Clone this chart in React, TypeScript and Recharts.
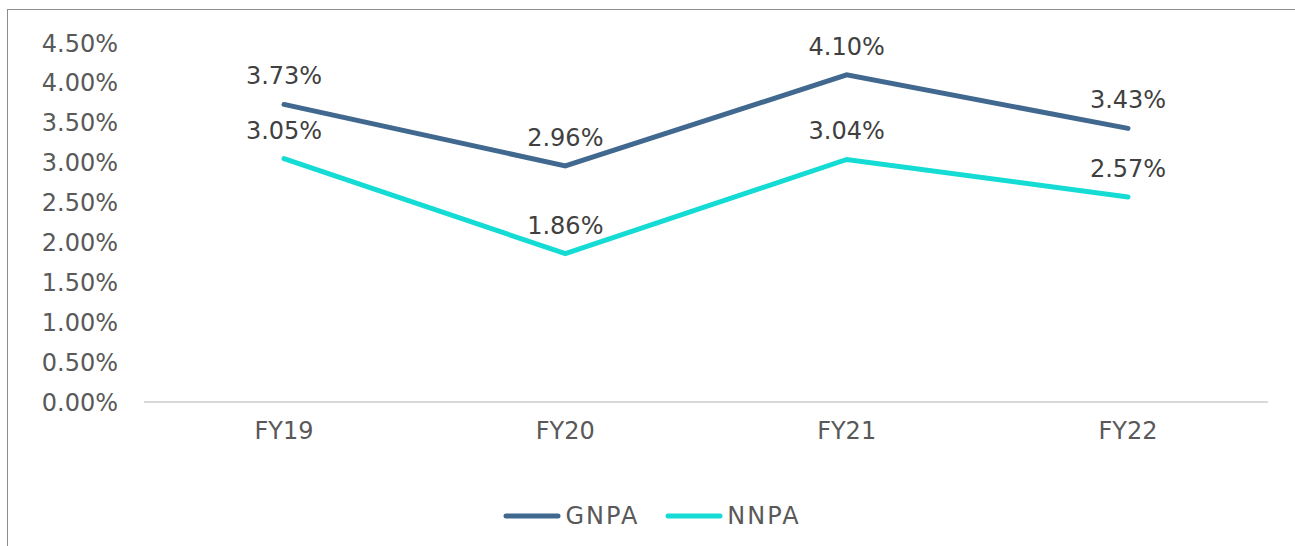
import React from "react";
import { LineChart, Line, XAxis, YAxis, LabelList, Legend } from "recharts";

const categories = ["FY19", "FY20", "FY21", "FY22"];
const gnpa = [3.73, 2.96, 4.1, 3.43];
const nnpa = [3.05, 1.86, 3.04, 2.57];
const yTicks = [0, 0.5, 1, 1.5, 2, 2.5, 3, 3.5, 4, 4.5];

const data = categories.map((name, i) => ({ name, GNPA: gnpa[i], NNPA: nnpa[i] }));

const FONT = "'DejaVu Sans', sans-serif";
const TEXT = "#595959";

const fmt = (v: number) => `${v.toFixed(2)}%`;

const renderLegend = (props: any) => {
  const { payload } = props;
  return (
    <div style={{ display: "flex", justifyContent: "center", fontFamily: FONT, paddingLeft: 36 }}>
      {payload.map((p: any, i: number) => (
        <div key={p.value} style={{ display: "flex", alignItems: "center", marginLeft: i ? 26 : 0 }}>
          <svg width={58} height={10}>
            <line x1={3} y1={5} x2={55} y2={5} stroke={p.color} strokeWidth={5} strokeLinecap="round" />
          </svg>
          <span style={{ fontSize: 24, color: TEXT, marginLeft: 4, letterSpacing: 2 }}>{p.value}</span>
        </div>
      ))}
    </div>
  );
};

export default function App() {
  return (
    <div style={{ position: "fixed", left: 0, top: 0, width: 1295, height: 546, background: "#fff", overflow: "hidden" }}>
      <div
        style={{
          position: "absolute",
          left: 7,
          top: 9,
          width: 1310,
          height: 560,
          border: "1.5px solid #8c8c8c",
          boxSizing: "border-box",
        }}
      />
      <LineChart
        width={1295}
        height={546}
        data={data}
        margin={{ top: 43, right: 27, left: 0, bottom: 56 }}
        style={{ position: "absolute", left: 0, top: 0 }}
      >
        <XAxis
          dataKey="name"
          axisLine={{ stroke: "#d9d9d9", strokeWidth: 2 }}
          tickLine={false}
          tick={{ fill: TEXT, fontSize: 24, fontFamily: FONT }}
          tickMargin={14}
          height={60}
          padding={{ left: 140, right: 140 }}
        />
        <YAxis
          domain={[0, 4.5]}
          ticks={yTicks}
          width={144}
          axisLine={false}
          tickLine={false}
          tickFormatter={fmt}
          tick={{ fill: TEXT, fontSize: 24, fontFamily: FONT }}
          tickMargin={20}
          interval={0}
        />
        <Legend content={renderLegend} verticalAlign="bottom" wrapperStyle={{ bottom: 16 }} />
        <Line
          dataKey="GNPA"
          stroke="#41688f"
          strokeWidth={5}
          dot={false}
          isAnimationActive={false}
          strokeLinecap="round"
        >
          <LabelList
            dataKey="GNPA"
            position="top"
            offset={20}
            formatter={(v: any) => fmt(Number(v))}
            style={{ fill: "#404040", fontSize: 24, fontFamily: FONT }}
          />
        </Line>
        <Line
          dataKey="NNPA"
          stroke="#14dcd5"
          strokeWidth={5}
          dot={false}
          isAnimationActive={false}
          strokeLinecap="round"
        >
          <LabelList
            dataKey="NNPA"
            position="top"
            offset={20}
            formatter={(v: any) => fmt(Number(v))}
            style={{ fill: "#404040", fontSize: 24, fontFamily: FONT }}
          />
        </Line>
      </LineChart>
    </div>
  );
}
